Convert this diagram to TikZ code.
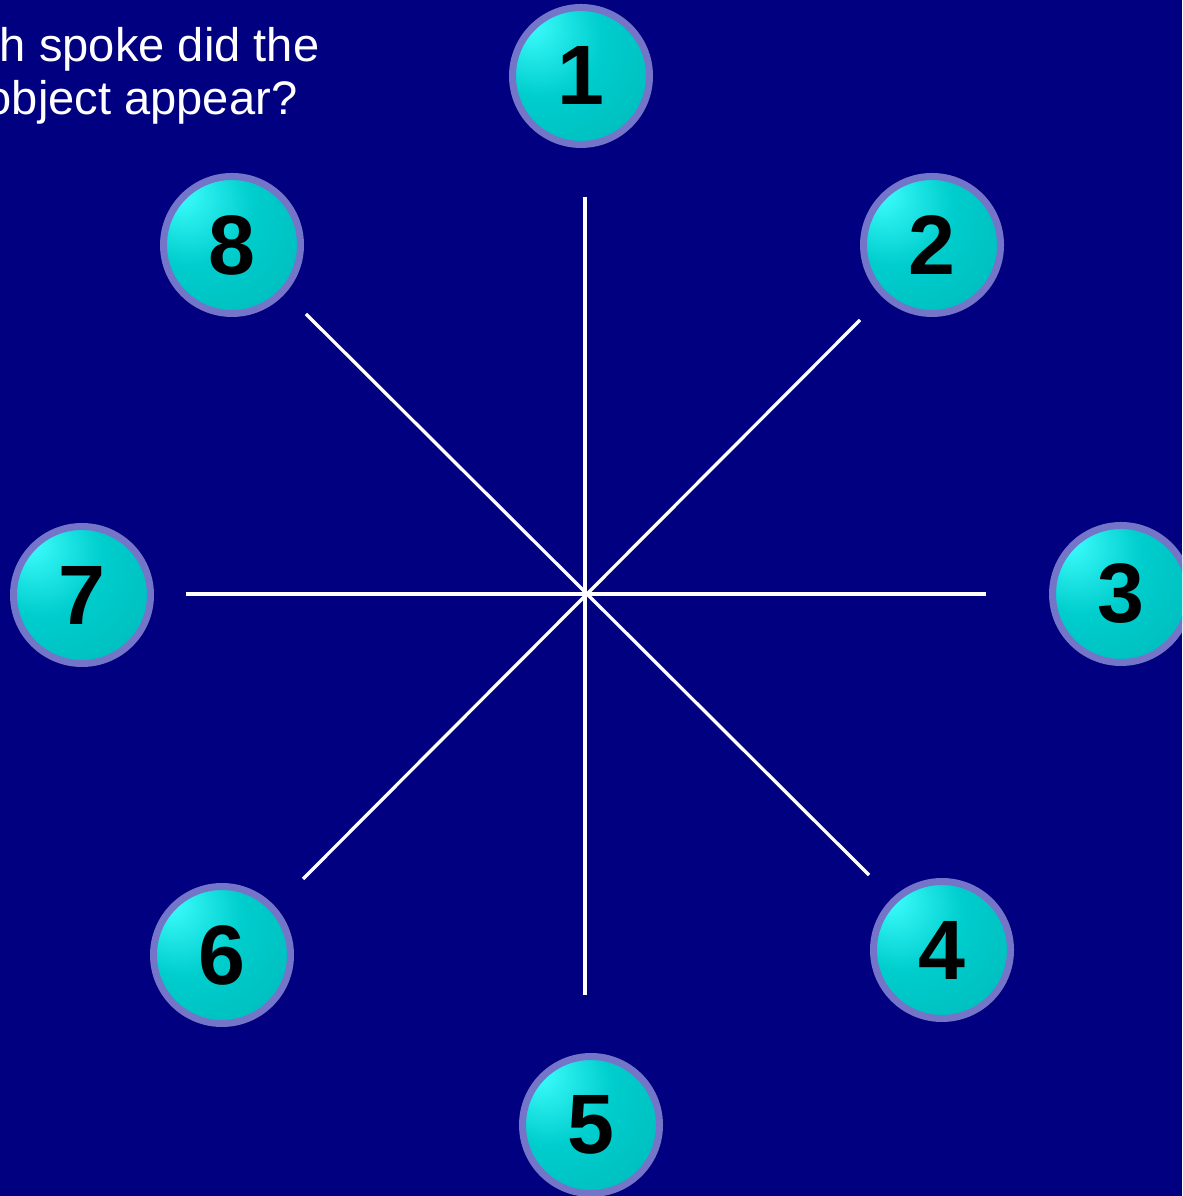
\documentclass[tikz,border=0pt]{standalone}
\usepackage{fontspec}
\setmainfont{Liberation Sans}
\usepackage{tikz}
\usetikzlibrary{positioning}
\definecolor{spknavy}{HTML}{000080}
\definecolor{spkrim}{HTML}{7474C8}
\definecolor{spkhi}{HTML}{40FFFF}
\definecolor{spkmid}{HTML}{00CDCD}
\definecolor{spklow}{HTML}{009494}
\pgfdeclareradialshading{spkball}{\pgfpoint{-20bp}{20bp}}{%
  color(0bp)=(spkhi); color(22bp)=(spkmid); color(55bp)=(spkmid!55!spklow); color(80bp)=(spklow)}
\begin{document}
\begin{tikzpicture}[
  ball/.style={circle,draw=spkrim,line width=0.07cm,shading=spkball,minimum size=1.37cm,inner sep=0pt,
    font=\fontsize{24}{24}\selectfont\bfseries,text=black},
  spoke/.style={draw=white,line width=0.033cm},
  ask/.style={font=\fontsize{13.4}{15}\selectfont,text=white,inner sep=0pt,anchor=base east}
]
\fill[spknavy] (0,0) rectangle (11.82,11.96);
\clip (0,0) rectangle (11.82,11.96);
\useasboundingbox (0,0) rectangle (11.82,11.96);
% question, cut at the left edge
\node[ask] (ask1) at (3.20,11.34) {h spoke did the};
\node[ask] (ask2) at (2.98,10.81) {object appear?};
% hub and spoke ends
\coordinate (hub) at (5.85,6.02);
\coordinate (s1) at (5.85,9.99);
\coordinate (s2) at (8.60,8.76);
\coordinate (s3) at (9.86,6.02);
\coordinate (s4) at (8.69,3.21);
\coordinate (s5) at (5.85,2.01);
\coordinate (s6) at (3.03,3.17);
\coordinate (s7) at (1.86,6.02);
\coordinate (s8) at (3.06,8.82);
\draw[spoke] (s1) -- (s5);
\draw[spoke] (s3) -- (s7);
\draw[spoke] (s2) -- (s6);
\draw[spoke] (s8) -- (s4);
% numbered balls
\node[ball] (b1) at (5.81,11.20) {1};
\node[ball] (b2) at (9.32,9.51) {2};
\node[ball] (b3) at (11.21,6.02) {3};
\node[ball] (b4) at (9.42,2.46) {4};
\node[ball] (b5) at (5.91,0.71) {5};
\node[ball] (b6) at (2.22,2.41) {6};
\node[ball] (b7) at (0.82,6.01) {7};
\node[ball] (b8) at (2.32,9.51) {8};
\end{tikzpicture}
\end{document}
